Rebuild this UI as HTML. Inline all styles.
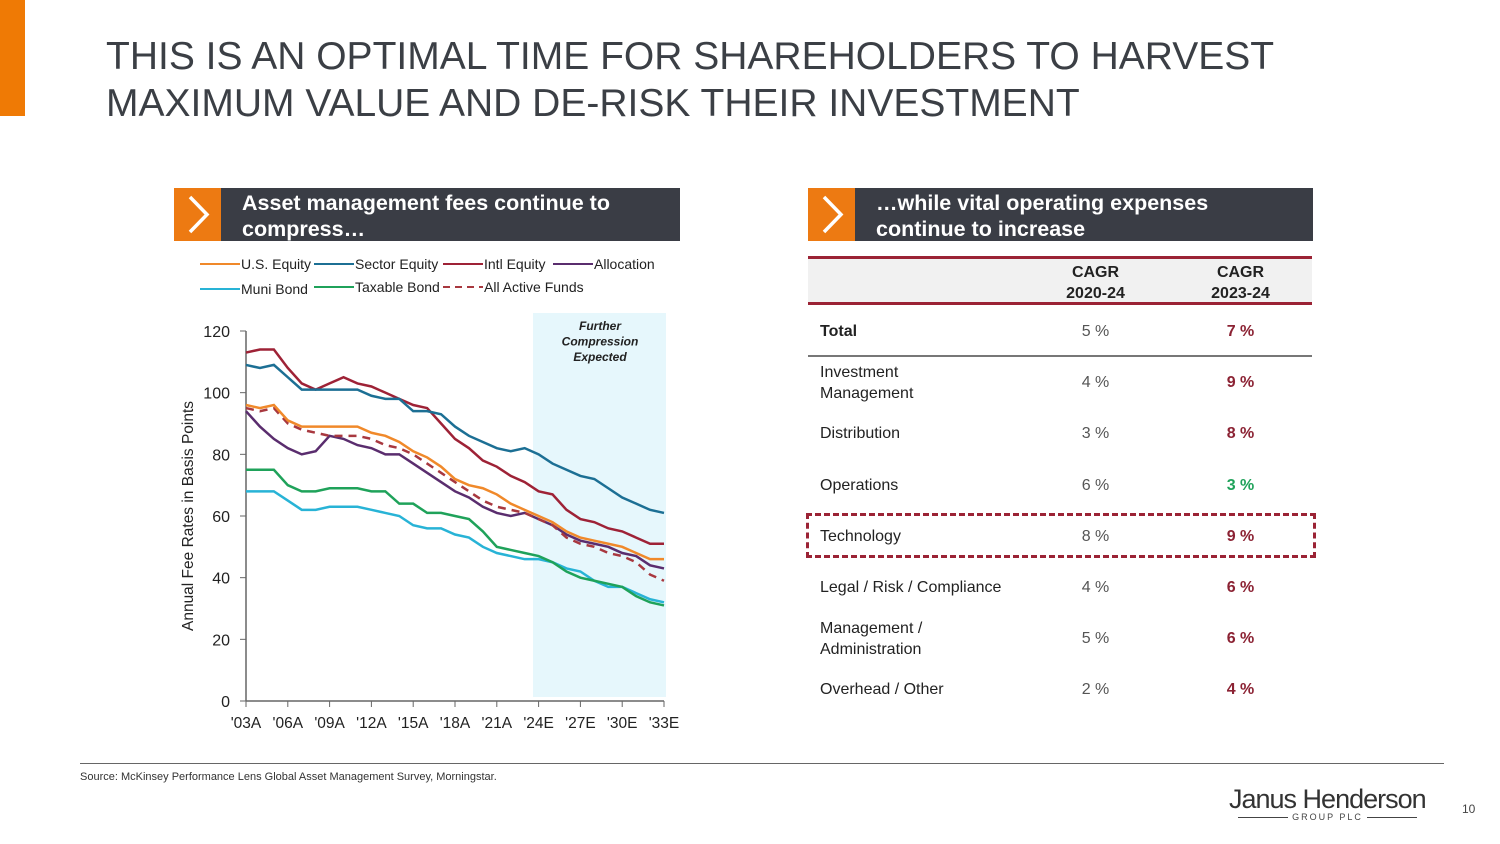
<!DOCTYPE html>
<html><head><meta charset="utf-8"><style>
body{margin:0;width:1500px;height:844px;background:#fff;position:relative;overflow:hidden;font-family:"Liberation Sans",Arial,sans-serif;color:#222}
.abs{position:absolute}
.title{left:106px;top:33px;font-size:39px;line-height:47px;color:#3b3f45}
.hdr{background:#3a3d45;height:53px;color:#fff;font-weight:bold;font-size:21.5px;line-height:26px}
.hdr .chev{position:absolute;left:0;top:0;width:47px;height:53px;background:#ed7a12}
.hdr .txt{position:absolute;left:68px;top:2px}
.row{position:absolute;left:808px;width:504px;font-size:16px;color:#222}
.c1{position:absolute;left:12px}
.c2{position:absolute;left:245px;width:85px;text-align:center;color:#555}
.c3{position:absolute;left:390px;width:85px;text-align:center;font-weight:bold;color:#8b2233}
</style></head><body>
<div class="abs" style="left:0;top:0;width:25px;height:116px;background:#ef7a05"></div>
<div class="abs title">THIS IS AN OPTIMAL TIME FOR SHAREHOLDERS TO HARVEST<br>MAXIMUM VALUE AND DE-RISK THEIR INVESTMENT</div>

<div class="abs hdr" style="left:174px;top:188px;width:506px">
<div class="chev"><svg width="47" height="53"><polyline points="16,9 33,26.5 16,44" fill="none" stroke="#fff" stroke-width="3.5"/></svg></div>
<div class="txt">Asset management fees continue to<br>compress…</div></div>

<div class="abs hdr" style="left:808px;top:188px;width:505px">
<div class="chev"><svg width="47" height="53"><polyline points="16,9 33,26.5 16,44" fill="none" stroke="#fff" stroke-width="3.5"/></svg></div>
<div class="txt">…while vital operating expenses<br>continue to increase</div></div>

<svg class="abs" style="left:0;top:0" width="700" height="750" id="chart"></svg>

<div class="abs" style="left:808px;top:256px;width:504px;height:49px;background:#f1f1f1;border-top:3px solid #9b2335;border-bottom:3px solid #9b2335;box-sizing:border-box"></div>
<div class="row" style="top:262px;font-weight:bold;line-height:21px"><span class="c2" style="color:#222;left:245px">CAGR<br>2020-24</span><span class="c2" style="color:#222;left:390px">CAGR<br>2023-24</span></div>
<div class="abs" style="left:808px;top:355px;width:504px;height:2px;background:#777"></div>
<div class="abs" style="left:806px;top:513px;width:504px;height:39px;border:3px dashed #9b2335"></div>
<div id="rows"></div>

<div class="abs" style="left:80px;top:763px;width:1364px;height:1px;background:#666"></div>
<div class="abs" style="left:80px;top:771px;font-size:11px;color:#333">Source: McKinsey Performance Lens Global Asset Management Survey, Morningstar.</div>
<div class="abs" style="left:1229px;top:784px;font-size:27px;color:#333;letter-spacing:-1px">Janus Henderson</div>
<div class="abs" style="left:1229px;top:812px;width:197px;font-size:9px;color:#444;letter-spacing:2px;text-align:center"><span style="display:inline-block;width:50px;height:1px;background:#444;vertical-align:middle"></span> GROUP PLC <span style="display:inline-block;width:50px;height:1px;background:#444;vertical-align:middle"></span></div>
<div class="abs" style="left:1462px;top:802px;font-size:12px;color:#444">10</div>

<script>
const years=['\'03A','\'06A','\'09A','\'12A','\'15A','\'18A','\'21A','\'24E','\'27E','\'30E','\'33E'];
const yTicks=[0,20,40,60,80,100,120];
const seriesNames=['U.S. Equity','Sector Equity','Intl Equity','Allocation','Muni Bond','Taxable Bond','All Active Funds'];
const seriesColors=['#f0892a','#1c6f94','#9e2236','#5a2d6e','#28b3d6','#1fa25a','#a8383f'];
const usEquity=[96,95,96,91,89,89,89,89,89,87,86,84,81,79,76,72,70,69,67,64,62,60,58,55,53,52,51,50,48,46,46];
const sectorEquity=[109,108,109,105,101,101,101,101,101,99,98,98,94,94,93,89,86,84,82,81,82,80,77,75,73,72,69,66,64,62,61];
const intlEquity=[113,114,114,108,103,101,103,105,103,102,100,98,96,95,90,85,82,78,76,73,71,68,67,62,59,58,56,55,53,51,51];
const allocation=[94,89,85,82,80,81,86,85,83,82,80,80,77,74,71,68,66,63,61,60,61,59,57,54,52,51,50,48,47,44,43];
const muniBond=[68,68,68,65,62,62,63,63,63,62,61,60,57,56,56,54,53,50,48,47,46,46,45,43,42,39,37,37,35,33,32];
const taxableBond=[75,75,75,70,68,68,69,69,69,68,68,64,64,61,61,60,59,55,50,49,48,47,45,42,40,39,38,37,34,32,31];
const allActive=[95,94,95,90,88,87,86,86,86,85,83,82,80,77,74,71,68,65,63,62,61,59,57,53,51,50,48,47,45,41,39];
const startYear=2003,endYear=2033,forecastStart=2023.6;

const NS='http://www.w3.org/2000/svg';
const svg=document.getElementById('chart');
const X=yr=>246+(yr-startYear)*(664-246)/(endYear-startYear);
const Y=v=>701-v*(701-331)/120;
function mk(t,a){const e=document.createElementNS(NS,t);for(const k in a)e.setAttribute(k,a[k]);svg.appendChild(e);return e;}
let e=mk('rect',{x:X(forecastStart),y:313,width:666-X(forecastStart),height:384,fill:'#e6f7fc'});


['Further','Compression','Expected'].forEach((s,i)=>{const t=mk('text',{x:600,y:330+i*15.5,'text-anchor':'middle','font-size':12,'font-style':'italic','font-weight':'bold',fill:'#222'});t.textContent=s;

});
e=mk('line',{x1:246,y1:331,x2:246,y2:701,stroke:'#666','stroke-width':1.5});


e=mk('line',{x1:246,y1:701,x2:664,y2:701,stroke:'#666','stroke-width':1.5});


yTicks.forEach(v=>{mk('line',{x1:240,x2:246,y1:Y(v),y2:Y(v),stroke:'#666'});const t=mk('text',{x:230,y:Y(v)+6,'text-anchor':'end','font-size':16,fill:'#222'});t.textContent=v;

});
years.forEach((s,i)=>{const yr=startYear+i*3;mk('line',{x1:X(yr),x2:X(yr),y1:701,y2:707,stroke:'#666'});const t=mk('text',{x:X(yr),y:728,'text-anchor':'middle','font-size':15.5,fill:'#222'});t.textContent=s;

});
const t=mk('text',{x:0,y:0,transform:'translate(193,516) rotate(-90)','text-anchor':'middle','font-size':15.5,fill:'#222'});t.textContent='Annual Fee Rates in Basis Points';


const data=[usEquity,sectorEquity,intlEquity,allocation,muniBond,taxableBond,allActive];
const order=[4,5,3,6,0,2,1];
order.forEach(i=>{const pts=data[i].map((v,k)=>X(startYear+k)+','+Y(v)).join(' ');
const p=mk('polyline',{points:pts,fill:'none',stroke:seriesColors[i],'stroke-width':2.5,'stroke-dasharray':i==6?'8,6':'none'});

});
const legPos=[[200,264],[314,264],[443,264],[553,264],[200,289],[314,287],[443,287]];
legPos.forEach(([x,y],i)=>{mk('line',{x1:x,x2:x+40,y1:y,y2:y,stroke:seriesColors[i],'stroke-width':2,'stroke-dasharray':i==6?'7,5':'none'});
const tx=mk('text',{x:x+41,y:y+5,'font-size':14,fill:'#222'});tx.textContent=seriesNames[i];

});

const rowLabels=['Total','Investment<br>Management','Distribution','Operations','Technology','Legal / Risk / Compliance','Management /<br>Administration','Overhead / Other'];
const cagr2024=['5 %','4 %','3 %','6 %','8 %','4 %','5 %','2 %'];
const cagr2324=['7 %','9 %','8 %','3 %','9 %','6 %','6 %','4 %'];
const rows=document.getElementById('rows');
rowLabels.forEach((l,i)=>{const cy=331+i*51.2;const two=l.includes('<br>');
const d=document.createElement('div');d.className='row';d.style.top=(cy-10)+'px';
d.innerHTML='<span class="c1" style="top:'+(two?-10:0)+'px;line-height:21px;'+(i==0?'font-weight:bold':'')+'">'+l+'</span><span class="c2" style="top:0;line-height:21px">'+cagr2024[i]+'</span><span class="c3" style="top:0;line-height:21px;'+(i==3?'color:#1fa25a':'')+'">'+cagr2324[i]+'</span>';


rows.appendChild(d);});
</script>
</body></html>
